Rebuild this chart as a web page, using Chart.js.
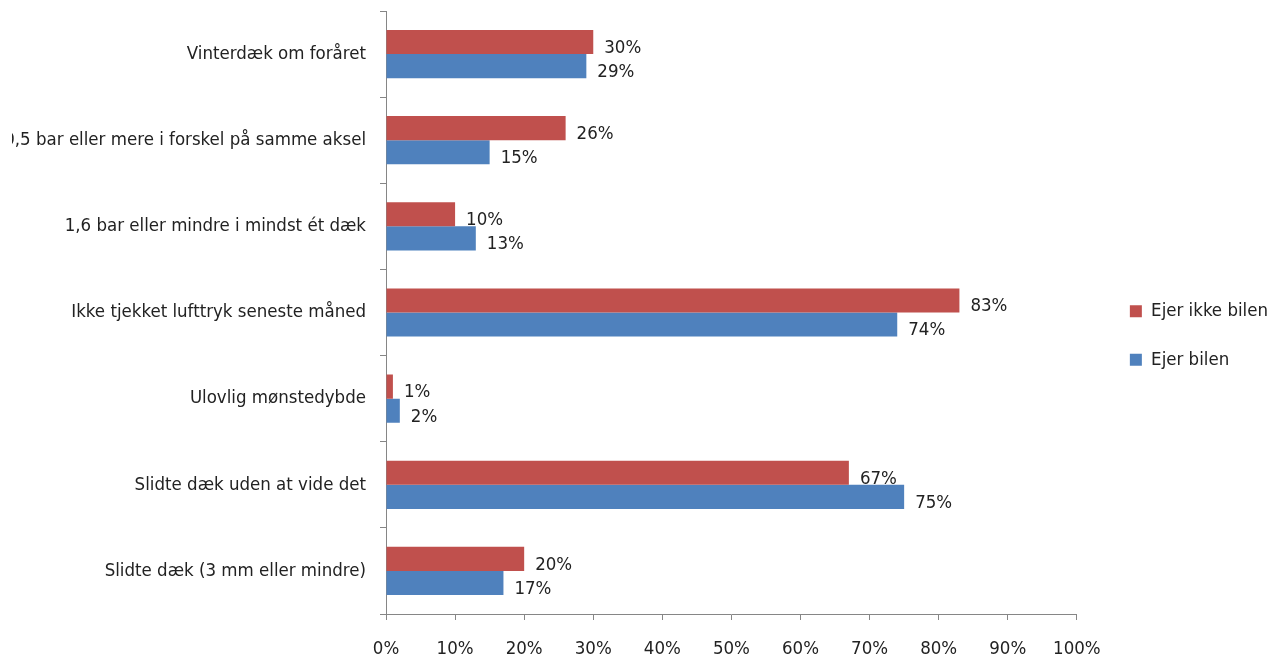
<!DOCTYPE html>
<html lang="da">
  <head>
    <meta charset="UTF-8" />
    <title>Dæk og lufttryk</title>
    <style>
      body {
        margin: 0;
        background: #fff;
      }
      .chart-container {
        width: 1270px;
        height: 660px;
      }
    </style>
  </head>
  <body>
    <div class="chart-container">
      <canvas id="tyreChart"></canvas>
    </div>
    <script src="https://cdn.jsdelivr.net/npm/chart.js"></script>
    <script>
      const categories = [
        "Vinterdæk om foråret",
        "0,5 bar eller mere i forskel på samme aksel",
        "1,6 bar eller mindre i mindst ét dæk",
        "Ikke tjekket lufttryk seneste måned",
        "Ulovlig mønstedybde",
        "Slidte dæk uden at vide det",
        "Slidte dæk (3 mm eller mindre)",
      ];
      const ejerIkkeBilen = [30, 26, 10, 83, 1, 67, 20];
      const ejerBilen = [29, 15, 13, 74, 2, 75, 17];
      const xTicks = [0, 10, 20, 30, 40, 50, 60, 70, 80, 90, 100];

      const fontFamily = "'DejaVu Sans Condensed', 'DejaVu Sans', sans-serif";
      const fontSize = 18.5;
      const textColor = "#222";
      const axisColor = "#868686";

      // draws the "30%" style labels just past the end of each bar
      const valueLabels = {
        id: "valueLabels",
        afterDatasetsDraw(chart) {
          const ctx = chart.ctx;
          ctx.save();
          ctx.font = fontSize + "px " + fontFamily;
          ctx.fillStyle = textColor;
          ctx.textAlign = "left";
          ctx.textBaseline = "middle";
          chart.data.datasets.forEach((ds, i) => {
            chart.getDatasetMeta(i).data.forEach((bar, j) => {
              ctx.fillText(ds.data[j] + "%", bar.x + 11, bar.y + 6);
            });
          });
          ctx.restore();
        },
      };

      new Chart(document.getElementById("tyreChart"), {
        type: "bar",
        data: {
          labels: categories,
          datasets: [
            {
              label: "Ejer ikke bilen",
              data: ejerIkkeBilen,
              backgroundColor: "#C0504D",
              categoryPercentage: 0.56,
              barPercentage: 1,
            },
            {
              label: "Ejer bilen",
              data: ejerBilen,
              backgroundColor: "#4F81BD",
              categoryPercentage: 0.56,
              barPercentage: 1,
            },
          ],
        },
        options: {
          indexAxis: "y",
          responsive: true,
          maintainAspectRatio: false,
          animation: false,
          layout: { padding: { top: 11, right: -8, left: 12, bottom: 0 } },
          plugins: {
            tooltip: { enabled: false },
            legend: {
              position: "right",
              align: "center",
              labels: {
                boxWidth: 12,
                boxHeight: 12,
                padding: 30,
                color: textColor,
                font: { family: fontFamily, size: fontSize },
              },
            },
          },
          scales: {
            x: {
              min: 0,
              max: 100,
              afterBuildTicks(axis) {
                axis.ticks = xTicks.map((v) => ({ value: v }));
              },
              grid: {
                drawOnChartArea: false,
                drawTicks: true,
                tickLength: 6,
                color: axisColor,
              },
              border: { color: axisColor, width: 1 },
              ticks: {
                color: textColor,
                padding: 18,
                maxRotation: 0,
                font: { family: fontFamily, size: fontSize },
                callback: (v) => v + "%",
              },
              afterFit(scale) {
                scale.height = 46;
                scale.paddingBottom = 0;
              },
            },
            y: {
              grid: {
                offset: true,
                drawOnChartArea: false,
                tickLength: 6,
                color: axisColor,
              },
              border: { color: axisColor, width: 1 },
              ticks: {
                color: textColor,
                padding: 14,
                font: { family: fontFamily, size: fontSize },
              },
              afterFit(scale) {
                scale.width = 374;
                scale.paddingTop = 0;
                scale.paddingBottom = 0;
              },
            },
            // empty strip between plot and legend
            gap: {
              position: "right",
              display: true,
              grid: { display: false },
              border: { display: false },
              ticks: { display: false },
              afterFit(scale) {
                scale.width = 23;
                scale.paddingTop = 0;
                scale.paddingBottom = 0;
              },
            },
          },
        },
        plugins: [valueLabels],
      });
    </script>
  </body>
</html>
